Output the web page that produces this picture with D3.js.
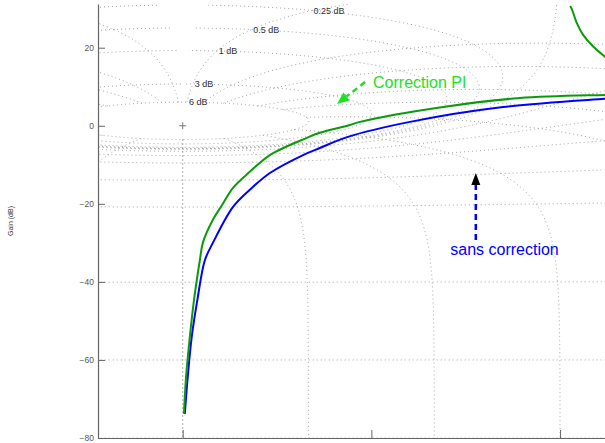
<!DOCTYPE html>
<html>
<head>
<meta charset="utf-8">
<script src="https://cdn.jsdelivr.net/npm/d3@7"></script>
<style>
  body { margin: 0; background: #fff; }
  svg { display: block; font-family: "Liberation Sans", Arial, sans-serif; }
</style>
</head>
<body>
<svg id="chart" width="605" height="443"></svg>
<script>
// open-loop Nichols curves: phase (deg), gain (dB)
var sansPhase = [-179.5, -178.8, -177.85, -176.5, -174.7, -172.8, -168.0, -164.0, -159.2, -151.3, -147.3, -140.8, -125.8, -103.6, -79.3, -70];
var sansGain = [-73.8, -64.4, -54.1, -44.6, -34.4, -30.0, -20.8, -16.4, -12.1, -7.5, -5.7, -2.9, 1.0, 4.8, 6.9, 7.5];
var piPhase = [-179.7, -179.2, -178.3, -177.3, -175.9, -175.2, -172.8, -170.6, -168.0, -164.0, -159.2, -150.4, -147.3, -140.1, -137.7, -117.9, -99.6, -79.3, -70];
var piGain = [-73.8, -64.4, -54.1, -44.6, -34.4, -30.0, -24.1, -20.3, -15.9, -11.8, -7.5, -3.1, -1.8, 0.2, 1.0, 4.8, 7.1, 7.9, 8.1];
// PI curve coming back down in the top right corner
var piArcPhase = [-87.6, -87.2, -86.0, -84.5, -82.1, -79.3, -76.9];
var piArcGain = [30.7, 29.9, 26.3, 23.3, 20.3, 17.7, 15.8];

// ngrid: closed-loop gain contours (dB) and closed-loop phase contours (deg)
var gainContours = [6, 3, 1, 0.5, 0.25, 0, -1, -3, -6, -12, -20, -40, -60, -80];
var phaseContours = [-1, -5, -10, -20, -30, -50, -90, -120, -150, -180];
var labelGains = [6, 3, 1, 0.5, 0.25];
var labelPhases = [-178.5, -177.1, -171.4, -163.2, -148.8];

var yTicks = [-80, -60, -40, -20, 0, 20];
var xTicks = [-180, -135, -90, -45];

var svg = d3.select('#chart');
var plotLeft = 98, plotTop = 4, plotBottom = 438;

var x = d3.scaleLinear().domain([-200.2, -70]).range([plotLeft, plotLeft + 130.2 * 4.193]);
var y = d3.scaleLinear().domain([-80, 31.2]).range([plotBottom, plotTop]);

svg.append('clipPath').attr('id', 'plot')
  .append('rect')
  .attr('x', plotLeft).attr('y', plotTop)
  .attr('width', x.range()[1] - plotLeft).attr('height', plotBottom - plotTop);

var plot = svg.append('g').attr('clip-path', 'url(#plot)');

// complex helpers
function cdiv(a, b) {
  var d = b[0] * b[0] + b[1] * b[1];
  return [(a[0] * b[0] + a[1] * b[1]) / d, (a[1] * b[0] - a[0] * b[1]) / d];
}
function toNichols(L, prev) {
  var ph = Math.atan2(L[1], L[0]) * 180 / Math.PI;
  if (ph > 0) ph -= 360;
  if (prev !== null) {
    while (ph - prev > 180) ph -= 360;
    while (prev - ph > 180) ph += 360;
  }
  var g = 20 * Math.log10(Math.hypot(L[0], L[1]));
  return [ph, Math.max(-300, Math.min(300, g))];
}

var contours = [];
// constant closed-loop gain: T = m e^{j psi}, L = T / (1 - T)
gainContours.forEach(function(db) {
  var m = Math.pow(10, db / 20), pts = [], prev = null;
  for (var i = 1; i < 2000; i++) {
    var psi = i / 2000 * 2 * Math.PI;
    var T = [m * Math.cos(psi), m * Math.sin(psi)];
    var p = toNichols(cdiv(T, [1 - T[0], -T[1]]), prev);
    prev = p[0];
    pts.push(p);
  }
  contours.push(pts);
});
// constant closed-loop phase: 1/L = r e^{-j theta} - 1, |T| = 1/r,
// only drawn outside the 6 dB contour (r >= 0.5)
phaseContours.forEach(function(th) {
  var t = th * Math.PI / 180, pts = [], prev = null;
  for (var i = 0; i <= 800; i++) {
    var r = 0.5 * Math.pow(10, i / 800 * 5);
    var u = [r * Math.cos(-t) - 1, r * Math.sin(-t)];
    var p = toNichols(cdiv([1, 0], u), prev);
    prev = p[0];
    pts.push(p);
  }
  contours.push(pts);
  // mirror image about -180
  contours.push(pts.map(function(d) { return [-360 - d[0], d[1]]; }));
});

var gridLine = function(shift) {
  return d3.line()
    .x(function(d) { return x(d[0] + shift); })
    .y(function(d) { return y(d[1]); });
};
[-360, 0, 360].forEach(function(shift) {
  plot.selectAll(null)
    .data(contours)
    .enter().append('path')
    .attr('d', gridLine(shift))
    .attr('fill', 'none')
    .attr('stroke', '#8a8a8a')
    .attr('stroke-width', 0.8)
    .attr('stroke-dasharray', '1,3');
});

// contour labels on the upper branch of each M-circle
function upperGain(db, phase) {
  var m = Math.pow(10, db / 20), m2 = m * m, c = Math.cos(phase * Math.PI / 180);
  var a = 1 - m2, b = -2 * m2 * c, cc = -m2;
  var g = (-b - Math.sqrt(b * b - 4 * a * cc)) / (2 * a);
  return 20 * Math.log10(g);
}
svg.selectAll('.mlabel')
  .data(labelGains)
  .enter().append('text')
  .attr('class', 'mlabel')
  .attr('x', function(d, i) { return x(labelPhases[i]); })
  .attr('y', function(d, i) { return y(upperGain(d, labelPhases[i])); })
  .attr('dy', '0.35em')
  .attr('font-size', 9)
  .attr('fill', '#333')
  .text(function(d) { return d + ' dB'; });

// critical point
var cx = x(-180), cy = y(0);
svg.append('path')
  .attr('d', 'M' + (cx - 3.5) + ',' + cy + 'H' + (cx + 3.5) + 'M' + cx + ',' + (cy - 3.5) + 'V' + (cy + 3.5))
  .attr('stroke', '#777')
  .attr('stroke-width', 1);

// axes
var yAxis = d3.axisLeft(y).tickValues(yTicks).tickSizeInner(-7).tickSizeOuter(0).tickPadding(4)
  .tickFormat(function(d) { return d < 0 ? '\u2212' + Math.abs(d) : d; });
var xAxis = d3.axisBottom(x).tickValues(xTicks).tickSizeInner(-8).tickSizeOuter(0).tickFormat('');

var ya = svg.append('g').attr('transform', 'translate(' + plotLeft + ',0)').call(yAxis);
var xa = svg.append('g').attr('transform', 'translate(0,' + plotBottom + ')').call(xAxis);
[ya, xa].forEach(function(a) {
  a.select('.domain').attr('stroke', '#666').attr('stroke-width', 1.2);
  a.selectAll('.tick line').attr('stroke', '#666').attr('stroke-width', 1);
  a.selectAll('.tick text').attr('fill', '#555').attr('font-size', 8.5)
    .attr('font-family', '"Liberation Sans", Arial, sans-serif');
});

svg.append('text')
  .attr('transform', 'translate(13,' + ((plotTop + plotBottom) / 2) + ') rotate(-90)')
  .attr('text-anchor', 'middle')
  .attr('font-size', 7)
  .attr('fill', '#333')
  .text('Gain (dB)');

// curves
var curve = d3.line()
  .curve(d3.curveCatmullRom.alpha(0.5))
  .x(function(d) { return x(d[0]); })
  .y(function(d) { return y(d[1]); });
function zip(a, b) { return a.map(function(v, i) { return [v, b[i]]; }); }

plot.append('path')
  .attr('d', curve(zip(sansPhase, sansGain)))
  .attr('fill', 'none').attr('stroke', '#0000ff').attr('stroke-width', 2);
plot.append('path')
  .attr('d', curve(zip(piPhase, piGain)))
  .attr('fill', 'none').attr('stroke', '#0a9a0a').attr('stroke-width', 2);
plot.append('path')
  .attr('d', curve(zip(piArcPhase, piArcGain)))
  .attr('fill', 'none').attr('stroke', '#0a9a0a').attr('stroke-width', 2);

// annotations (data coordinates)
function arrow(tail, tip, color, headColor, len, half) {
  var x0 = x(tail[0]), y0 = y(tail[1]), x1 = x(tip[0]), y1 = y(tip[1]);
  var dx = x1 - x0, dy = y1 - y0, n = Math.hypot(dx, dy);
  var ux = dx / n, uy = dy / n;
  var bx = x1 - ux * len, by = y1 - uy * len;
  svg.append('line')
    .attr('x1', x0).attr('y1', y0).attr('x2', bx).attr('y2', by)
    .attr('stroke', color).attr('stroke-width', 2.5).attr('stroke-dasharray', '6,4');
  svg.append('path')
    .attr('d', 'M' + x1 + ',' + y1 + 'L' + (bx - uy * half) + ',' + (by + ux * half) +
      'L' + (bx + uy * half) + ',' + (by - ux * half) + 'Z')
    .attr('fill', headColor);
}

arrow([-110.1, -29.3], [-110.1, -12.1], '#0000ff', '#000', 12, 4.5);
svg.append('text')
  .attr('x', x(-103.25)).attr('y', y(-33.1))
  .attr('text-anchor', 'middle')
  .attr('font-size', 16)
  .attr('fill', '#0000ff')
  .text('sans correction');

arrow([-136.5, 11.2], [-143.2, 5.6], '#1ee01e', '#1ee01e', 12, 5);
svg.append('text')
  .attr('x', x(-134.6)).attr('y', y(9.7))
  .attr('font-size', 16)
  .attr('fill', '#1ee01e')
  .text('Correction PI');
</script>
</body>
</html>
